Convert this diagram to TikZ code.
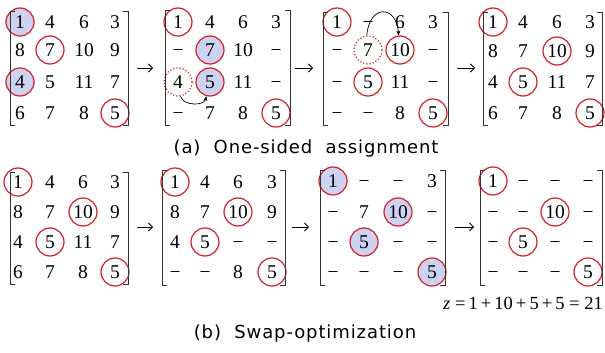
\documentclass[tikz,border=0pt]{standalone}
\usepackage{fontspec}
\setmainfont{Liberation Serif}
\newfontfamily\capfont[LetterSpace=5]{DejaVu Sans}
\usetikzlibrary{arrows.meta}
\definecolor{rcol}{RGB}{215,30,40}
\definecolor{fcol}{RGB}{205,210,240}
\pgfdeclarelayer{bg}
\pgfsetlayers{bg,main}
\tikzset{
  ent/.style={inner sep=0pt, text height=13.2pt, text depth=0pt, font=\fontsize{19.5}{20}\selectfont},
  rc/.style={circle, draw=rcol, line width=1.2pt, minimum size=28pt, inner sep=0pt},
  rcf/.style={rc, fill=fcol},
  rcd/.style={rc, dotted},
  brk/.style={line width=0.9pt, draw=black!80},
  marr/.style={-{Straight Barb[length=4pt,width=8pt]}, line width=0.8pt},
  carr/.style={-{Stealth[length=5pt,width=4pt]}, line width=0.7pt},
  capt/.style={inner sep=0pt, font=\capfont\fontsize{18}{20}\selectfont},
}
\newcommand\mymat[4]{%
  \foreach \e [count=\i from 0] in {#4} {
    \pgfmathtruncatemacro\rr{int(\i/4)}
    \pgfmathtruncatemacro\cc{mod(\i,4)}
    \pgfmathsetmacro\xx{{#2}[\cc]}
    \pgfmathsetmacro\yy{{#3}[\rr]}
    \node[ent] (#1-\rr-\cc) at (\xx,\yy) {\e};
  }%
}
\newcommand\brak[4]{%
  \draw[brk] (#1+5,#3) -- (#1,#3) -- (#1,#4) -- (#1+5,#4);
  \draw[brk] (#2-5,#3) -- (#2,#3) -- (#2,#4) -- (#2-5,#4);
}
\begin{document}
\begin{tikzpicture}[x=1pt,y=-1pt]
\begin{pgfonlayer}{bg}
\fill[white] (0,0) rectangle (605,353);
\end{pgfonlayer}
\useasboundingbox (0,0) rectangle (605,353);

% ---------- top row ----------
\mymat{a}{20,50,84,115}{22,50,82,113}{1,4,6,3, 8,7,10,9, 4,5,11,7, 6,7,8,5}
\brak{10}{128}{11}{125}
\mymat{b}{178,210,243,276}{22,50,82,113}{1,4,6,3, −,7,10,−, 4,5,11,−, −,7,8,5}
\brak{165}{290}{10}{125}
\mymat{c}{337,368,400,433}{22,50,82,113}{1,−,6,3, −,7,10,−, −,5,11,−, −,−,8,5}
\brak{323}{448}{12}{125}
\mymat{d}{493,523,557,590}{22,51,82,113}{1,4,6,3, 8,7,10,9, 4,5,11,7, 6,7,8,5}
\brak{483}{602}{12}{125}

% ---------- bottom row ----------
\mymat{e}{18,50,83,115}{182,212,242,272}{1,4,6,3, 8,7,10,9, 4,5,11,7, 6,7,8,5}
\brak{10}{128}{172}{284}
\mymat{f}{175,205,238,272}{182,212,242,272}{1,4,6,3, 8,7,10,9, 4,5,−,−, −,−,8,5}
\brak{162}{285}{170}{285}
\mymat{g}{333,364,398,432}{181,212,242,272}{1,−,−,3, −,7,10,−, −,5,−,−, −,−,−,5}
\brak{320}{445}{170}{285}
\mymat{h}{493,523,555,588}{181,212,242,272}{1,−,−,−, −,−,10,−, −,5,−,−, −,−,−,5}
\brak{480}{602}{170}{285}

% ---------- circles ----------
\begin{pgfonlayer}{bg}
  \node[rcf] (ca1) at (a-0-0) {};
  \node[rc]  (ca2) at (a-1-1) {};
  \node[rcf] (ca3) at (a-2-0) {};
  \node[rc]  (ca4) at (a-3-3) {};
  \node[rc]  (cb1) at (b-0-0) {};
  \node[rcf] (cb2) at (b-1-1) {};
  \node[rcf] (cb3) at (b-2-1) {};
  \node[rc]  (cb4) at (b-3-3) {};
  \node[rcd] (cb5) at (b-2-0) {};
  \node[rc]  (cc1) at (c-0-0) {};
  \node[rcd] (cc2) at (c-1-1) {};
  \node[rc]  (cc3) at (c-1-2) {};
  \node[rc]  (cc4) at (c-2-1) {};
  \node[rc]  (cc5) at (c-3-3) {};
  \node[rc]  (cd1) at (d-0-0) {};
  \node[rc]  (cd2) at (d-1-2) {};
  \node[rc]  (cd3) at (d-2-1) {};
  \node[rc]  (cd4) at (d-3-3) {};
  \node[rc]  (ce1) at (e-0-0) {};
  \node[rc]  (ce2) at (e-1-2) {};
  \node[rc]  (ce3) at (e-2-1) {};
  \node[rc]  (ce4) at (e-3-3) {};
  \node[rc]  (cf1) at (f-0-0) {};
  \node[rc]  (cf2) at (f-1-2) {};
  \node[rc]  (cf3) at (f-2-1) {};
  \node[rc]  (cf4) at (f-3-3) {};
  \node[rcf] (cg1) at (g-0-0) {};
  \node[rcf] (cg2) at (g-1-2) {};
  \node[rcf] (cg3) at (g-2-1) {};
  \node[rcf] (cg4) at (g-3-3) {};
  \node[rc]  (ch1) at (h-0-0) {};
  \node[rc]  (ch2) at (h-1-2) {};
  \node[rc]  (ch3) at (h-2-1) {};
  \node[rc]  (ch4) at (h-3-3) {};
\end{pgfonlayer}

% ---------- curved arrows ----------
\draw[carr] (cb5.-80) to[out=-75,in=-100] (cb3.-105);
\draw[carr] (cc2.95) to[out=85,in=95,looseness=2.5] (cc3.95);

% ---------- matrix arrows ----------
\coordinate (t1s) at (137,68); \coordinate (t1e) at (153,68);
\coordinate (t2s) at (295,68); \coordinate (t2e) at (313,68);
\coordinate (t3s) at (457,68); \coordinate (t3e) at (475,68);
\coordinate (b1s) at (137,227); \coordinate (b1e) at (153,227);
\coordinate (b2s) at (292,227); \coordinate (b2e) at (309,227);
\coordinate (b3s) at (455,227); \coordinate (b3e) at (474,227);
\draw[marr] (t1s) -- (t1e);
\draw[marr] (t2s) -- (t2e);
\draw[marr] (t3s) -- (t3e);
\draw[marr] (b1s) -- (b1e);
\draw[marr] (b2s) -- (b2e);
\draw[marr] (b3s) -- (b3e);

% ---------- texts ----------
\node[capt] (capa) at (306,149) {(a)\ \ One-sided\ \ assignment};
\node[capt] (capb) at (305,334) {(b)\ \ Swap-optimization};
\node[ent, anchor=east, font=\fontsize{18.5}{20}\selectfont] (eq) at (603,303) {\textit{z} =\,1\,+\,10\,+\,5\,+\,5 = 21};
\end{tikzpicture}
\end{document}
